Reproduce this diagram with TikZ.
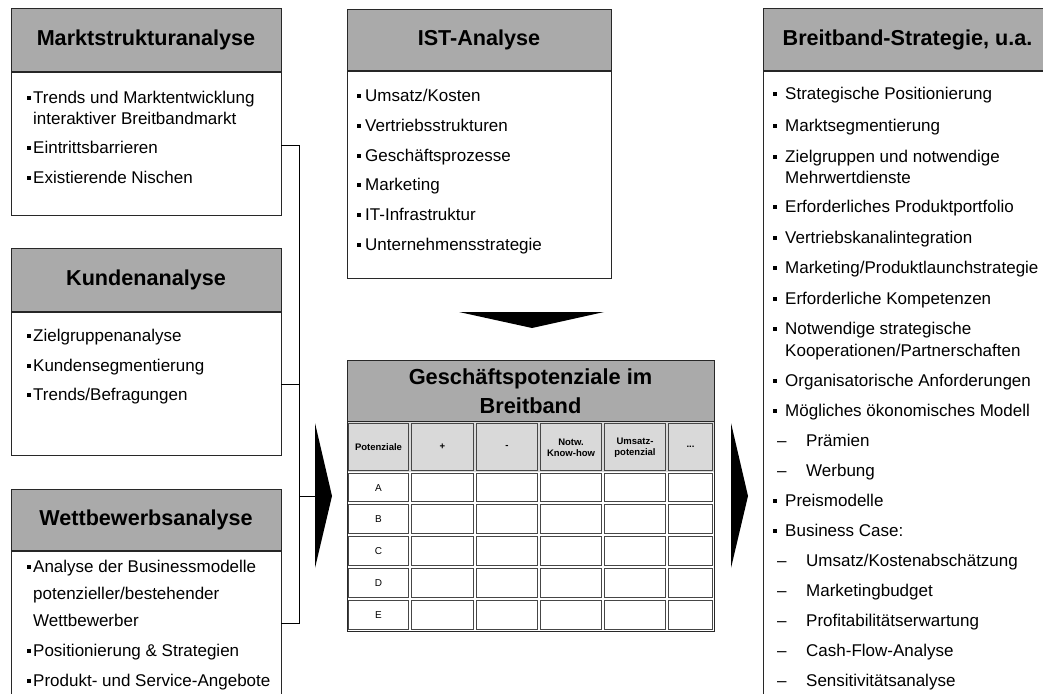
\documentclass[tikz,border=0pt]{standalone}
\usepackage{fontspec}
\setmainfont{Liberation Sans}
\definecolor{hdrgray}{RGB}{170,170,170}
\definecolor{rowgray}{RGB}{217,217,217}
\definecolor{boxline}{RGB}{40,40,40}
\definecolor{cellline}{RGB}{70,70,70}
\tikzset{
  box/.style={draw=boxline, line width=0.8pt, inner sep=0pt, outer sep=0pt, fill=white},
  hdr/.style={box, fill=hdrgray, font=\fontsize{21.6}{25}\selectfont\bfseries},
  sepline/.style={draw=black!85, line width=1.6pt},
  tline/.style={anchor=base west, yshift=-6.5pt, inner sep=0pt, font=\fontsize{17}{21}\selectfont},
  conn/.style={draw=black, line width=0.8pt},
  cellbox/.style={draw=cellline, line width=1pt},
  celltxt/.style={inner sep=0pt, align=center, font=\fontsize{9.5}{11}\selectfont},
  arrowfill/.style={fill=black}
}
% one text line: name, x of text start, y of line centre, text
\newcommand\tl[4]{\node[tline] (#1) at (#2,#3) {#4};}
% square bullet centred on (x, y+1)
\newcommand\sq[2]{\fill[black] (#1-2,#2-1) rectangle (#1+2,#2+3);}
% dash for second-level items
\newcommand\dl[4]{\node[tline] (#1) at (#2,#3) {\makebox[29pt][l]{–}#4};}
\begin{document}
\begin{tikzpicture}[x=1pt,y=-1pt]
\useasboundingbox (0,0) rectangle (1043,693);
\clip (0,0) rectangle (1043,693);

% ---------- left column ----------
\node[hdr, minimum width=270pt, minimum height=64pt] (marktH) at (146,40) {Marktstrukturanalyse};
\node[box, minimum width=270pt, minimum height=143pt] (markt) at (146,143.5) {};
\draw[sepline] (marktH.south west) -- (marktH.south east);
\sq{28.5}{97}\tl{m1}{33}{97}{Trends und Marktentwicklung}
\tl{m2}{33}{118}{interaktiver Breitbandmarkt}
\sq{28.5}{147}\tl{m3}{33}{147}{Eintrittsbarrieren}
\sq{28.5}{177}\tl{m4}{33}{177}{Existierende Nischen}

\node[hdr, minimum width=270pt, minimum height=64pt] (kundenH) at (146,280) {Kundenanalyse};
\node[box, minimum width=270pt, minimum height=143pt] (kunden) at (146,383.5) {};
\draw[sepline] (kundenH.south west) -- (kundenH.south east);
\sq{28.5}{335}\tl{k1}{33}{335}{Zielgruppenanalyse}
\sq{28.5}{365}\tl{k2}{33}{365}{Kundensegmentierung}
\sq{28.5}{394}\tl{k3}{33}{394}{Trends/Befragungen}

\node[hdr, minimum width=270pt, minimum height=62pt] (wettH) at (146,520) {Wettbewerbsanalyse};
\node[box, minimum width=270pt, minimum height=169pt] (wett) at (146,635.5) {};
\draw[sepline] (wettH.south west) -- (wettH.south east);
\sq{28.5}{566}\tl{w1}{33}{566}{Analyse der Businessmodelle}
\tl{w2}{33}{593}{potenzieller/bestehender}
\tl{w3}{33}{620}{Wettbewerber}
\sq{28.5}{650}\tl{w4}{33}{650}{Positionierung \& Strategien}
\sq{28.5}{680}\tl{w5}{33}{680}{Produkt- und Service-Angebote}

% bracket joining the three analyses
\coordinate (jA) at (299,145);
\coordinate (jK) at (299,384);
\coordinate (jM) at (299,496);
\coordinate (jC) at (299,623);
\coordinate (larrow) at (315,496);
\draw[conn] (markt.east |- jA) -- (jA) -- (jC) -- (wett.east |- jC);
\draw[conn] (kunden.east |- jK) -- (jK);
\draw[conn] (jM) -- (larrow);
\fill[arrowfill] (315,423) -- (332,496) -- (315,568) -- cycle;

% ---------- IST analysis ----------
\node[hdr, minimum width=264pt, minimum height=62pt] (istH) at (479,40) {IST-Analyse};
\node[box, minimum width=264pt, minimum height=207pt] (ist) at (479,174.5) {};
\draw[sepline] (istH.south west) -- (istH.south east);
\sq{359}{95}\tl{i1}{365}{95}{Umsatz/Kosten}
\sq{359}{125}\tl{i2}{365}{125}{Vertriebsstrukturen}
\sq{359}{155}\tl{i3}{365}{155}{Geschäftsprozesse}
\sq{359}{184}\tl{i4}{365}{184}{Marketing}
\sq{359}{214}\tl{i5}{365}{214}{IT-Infrastruktur}
\sq{359}{244}\tl{i6}{365}{244}{Unternehmensstrategie}

% down arrow
\fill[arrowfill] (459,312) -- (604,312) -- (532,328) -- cycle;

% ---------- potentials table ----------
\node[hdr, minimum width=367pt, minimum height=62pt, align=center,
      font=\fontsize{21.8}{29}\selectfont\bfseries] (gp) at (530.5,391) {Geschäftspotenziale im\\Breitband};
\draw[sepline] (gp.south west) -- (gp.south east);
\fill[white] (347,422) rectangle (714,631);
\fill[rowgray] (347,422) rectangle (714,472);
\foreach \xa/\xb in {347/410,410/475,475/539,539/603,603/667,667/714}{
  \foreach \ya/\yb in {422/472,472/503,503/535,535/567,567/599,599/631}{
    \draw[cellbox] (\xa+1.2,\ya+1.2) rectangle (\xb-1.2,\yb-1.2);
  }
}
\draw[draw=boxline, line width=0.8pt] (347,360) rectangle (714,631);
\node[celltxt, font=\fontsize{9.5}{11}\selectfont\bfseries] (c1) at (378.5,447) {Potenziale};
\node[celltxt, font=\fontsize{9.5}{11}\selectfont\bfseries] (c2) at (442.5,447) {+};
\node[celltxt, font=\fontsize{9.5}{11}\selectfont\bfseries] (c3) at (507,447) {-};
\node[celltxt, font=\fontsize{9.5}{11}\selectfont\bfseries] (c4) at (571,448) {Notw.\\Know-how};
\node[celltxt, font=\fontsize{9.5}{11}\selectfont\bfseries] (c5) at (635,448) {Umsatz-\\potenzial};
\node[celltxt, font=\fontsize{9.5}{11}\selectfont\bfseries] (c6) at (690.5,447) {...};
\node[celltxt, font=\fontsize{10}{12}\selectfont] (rA) at (378.5,488) {A};
\node[celltxt, font=\fontsize{10}{12}\selectfont] (rB) at (378.5,519.5) {B};
\node[celltxt, font=\fontsize{10}{12}\selectfont] (rC) at (378.5,551.5) {C};
\node[celltxt, font=\fontsize{10}{12}\selectfont] (rD) at (378.5,583.5) {D};
\node[celltxt, font=\fontsize{10}{12}\selectfont] (rE) at (378.5,615.5) {E};

% right arrow
\fill[arrowfill] (731,423) -- (748,496) -- (731,568) -- cycle;

% ---------- broadband strategy ----------
\node[hdr, minimum width=289pt, minimum height=63pt] (strH) at (907.5,39.5) {Breitband-Strategie, u.a.};
\node[box, minimum width=289pt, minimum height=649pt] (str) at (907.5,395.5) {};
\draw[sepline] (strH.south west) -- (strH.south east);
\sq{774.5}{93}\tl{s1}{785}{93}{Strategische Positionierung}
\sq{774.5}{125}\tl{s2}{785}{125}{Marktsegmentierung}
\sq{774.5}{156}\tl{s3}{785}{156}{Zielgruppen und notwendige}
\tl{s4}{785}{177}{Mehrwertdienste}
\sq{774.5}{206}\tl{s5}{785}{206}{Erforderliches Produktportfolio}
\sq{774.5}{237}\tl{s6}{785}{237}{Vertriebskanalintegration}
\sq{774.5}{267}\tl{s7}{785}{267}{Marketing/Produktlaunchstrategie}
\sq{774.5}{298}\tl{s8}{785}{298}{Erforderliche Kompetenzen}
\sq{774.5}{328}\tl{s9}{785}{328}{Notwendige strategische}
\tl{s10}{785}{350}{Kooperationen/Partnerschaften}
\sq{774.5}{380}\tl{s11}{785}{380}{Organisatorische Anforderungen}
\sq{774.5}{410}\tl{s12}{785}{410}{Mögliches ökonomisches Modell}
\dl{s13}{777}{440}{Prämien}
\dl{s14}{777}{470}{Werbung}
\sq{774.5}{500}\tl{s15}{785}{500}{Preismodelle}
\sq{774.5}{530}\tl{s16}{785}{530}{Business Case:}
\dl{s17}{777}{560}{Umsatz/Kostenabschätzung}
\dl{s18}{777}{590}{Marketingbudget}
\dl{s19}{777}{620}{Profitabilitätserwartung}
\dl{s20}{777}{650}{Cash-Flow-Analyse}
\dl{s21}{777}{680}{Sensitivitätsanalyse}
\end{tikzpicture}
\end{document}
